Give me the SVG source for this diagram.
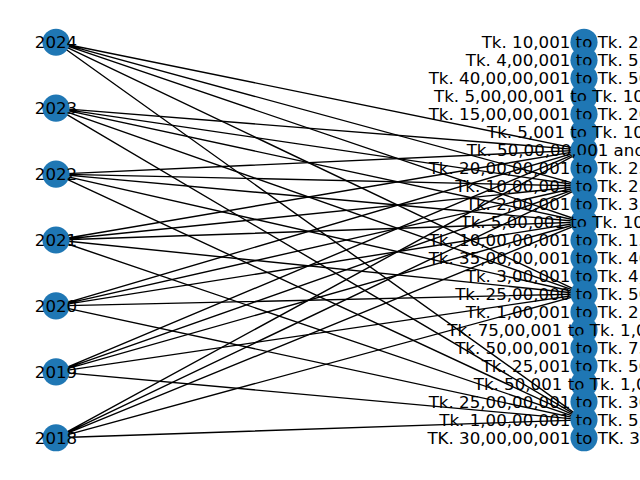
<svg xmlns="http://www.w3.org/2000/svg" width="640" height="480" viewBox="0 0 640 480">
<style>
.e{stroke:#000;stroke-width:1.39;fill:none}
.n{fill:#1f77b4}
.t{font-family:"DejaVu Sans",sans-serif;font-size:16.67px;fill:#000;text-anchor:middle}
</style>
<rect width="640" height="480" fill="#fff"/>
<g id="edges" class="e">
<path d="M56 42.2L584 150.09M56 42.2L584 186.05M56 42.2L584 222.02M56 42.2L584 293.95M56 42.2L584 419.82"/>
<path d="M56 108.13L584 150.09M56 108.13L584 186.05M56 108.13L584 222.02M56 108.13L584 293.95M56 108.13L584 419.82"/>
<path d="M56 174.07L584 150.09M56 174.07L584 186.05M56 174.07L584 222.02M56 174.07L584 293.95M56 174.07L584 419.82"/>
<path d="M56 240L584 150.09M56 240L584 186.05M56 240L584 222.02M56 240L584 293.95M56 240L584 419.82"/>
<path d="M56 305.93L584 150.09M56 305.93L584 186.05M56 305.93L584 222.02M56 305.93L584 293.95M56 305.93L584 419.82"/>
<path d="M56 371.87L584 150.09M56 371.87L584 186.05M56 371.87L584 222.02M56 371.87L584 293.95M56 371.87L584 419.82"/>
<path d="M56 437.8L584 150.09M56 437.8L584 186.05M56 437.8L584 222.02M56 437.8L584 293.95M56 437.8L584 419.82"/>
</g>
<g id="y2024"><circle class="n" cx="56" cy="42.2" r="13.57"/><text class="t" x="56" y="47.9">2024</text></g>
<g id="y2023"><circle class="n" cx="56" cy="108.13" r="13.57"/><text class="t" x="56" y="113.83">2023</text></g>
<g id="y2022"><circle class="n" cx="56" cy="174.07" r="13.57"/><text class="t" x="56" y="179.77">2022</text></g>
<g id="y2021"><circle class="n" cx="56" cy="240" r="13.57"/><text class="t" x="56" y="245.7">2021</text></g>
<g id="y2020"><circle class="n" cx="56" cy="305.93" r="13.57"/><text class="t" x="56" y="311.63">2020</text></g>
<g id="y2019"><circle class="n" cx="56" cy="371.87" r="13.57"/><text class="t" x="56" y="377.57">2019</text></g>
<g id="y2018"><circle class="n" cx="56" cy="437.8" r="13.57"/><text class="t" x="56" y="443.5">2018</text></g>
<g id="r0"><circle class="n" cx="584" cy="42.2" r="13.57"/><text class="t" x="584" y="47.9">Tk. 10,001 to Tk. 25,000</text></g>
<g id="r1"><circle class="n" cx="584" cy="60.18" r="13.57"/><text class="t" x="584" y="65.88">Tk. 4,00,001 to Tk. 5,00,000</text></g>
<g id="r2"><circle class="n" cx="584" cy="78.16" r="13.57"/><text class="t" x="584" y="83.86">Tk. 40,00,00,001 to Tk. 50,00,00,000</text></g>
<g id="r3"><circle class="n" cx="584" cy="96.15" r="13.57"/><text class="t" x="584" y="101.85">Tk. 5,00,00,001 to Tk. 10,00,00,000</text></g>
<g id="r4"><circle class="n" cx="584" cy="114.13" r="13.57"/><text class="t" x="584" y="119.83">Tk. 15,00,00,001 to Tk. 20,00,00,000</text></g>
<g id="r5"><circle class="n" cx="584" cy="132.11" r="13.57"/><text class="t" x="584" y="137.81">Tk. 5,001 to Tk. 10,000</text></g>
<g id="r6"><circle class="n" cx="584" cy="150.09" r="13.57"/><text class="t" x="584" y="155.79">Tk. 50,00,00,001 and above</text></g>
<g id="r7"><circle class="n" cx="584" cy="168.07" r="13.57"/><text class="t" x="584" y="173.77">Tk. 20,00,00,001 to Tk. 25,00,00,000</text></g>
<g id="r8"><circle class="n" cx="584" cy="186.05" r="13.57"/><text class="t" x="584" y="191.75">Tk. 10,00,001 to Tk. 25,00,000</text></g>
<g id="r9"><circle class="n" cx="584" cy="204.04" r="13.57"/><text class="t" x="584" y="209.74">Tk. 2,00,001 to Tk. 3,00,000</text></g>
<g id="r10"><circle class="n" cx="584" cy="222.02" r="13.57"/><text class="t" x="584" y="227.72">Tk. 5,00,001 to Tk. 10,00,000</text></g>
<g id="r11"><circle class="n" cx="584" cy="240" r="13.57"/><text class="t" x="584" y="245.7">Tk. 10,00,00,001 to Tk. 15,00,00,000</text></g>
<g id="r12"><circle class="n" cx="584" cy="257.98" r="13.57"/><text class="t" x="584" y="263.68">Tk. 35,00,00,001 to Tk. 40,00,00,000</text></g>
<g id="r13"><circle class="n" cx="584" cy="275.96" r="13.57"/><text class="t" x="584" y="281.66">Tk. 3,00,001 to Tk. 4,00,000</text></g>
<g id="r14"><circle class="n" cx="584" cy="293.95" r="13.57"/><text class="t" x="584" y="299.65">Tk. 25,00,000 to Tk. 50,00,000</text></g>
<g id="r15"><circle class="n" cx="584" cy="311.93" r="13.57"/><text class="t" x="584" y="317.63">Tk. 1,00,001 to Tk. 2,00,000</text></g>
<g id="r16"><circle class="n" cx="584" cy="329.91" r="13.57"/><text class="t" x="584" y="335.61">Tk. 75,00,001 to Tk. 1,00,00,000</text></g>
<g id="r17"><circle class="n" cx="584" cy="347.89" r="13.57"/><text class="t" x="584" y="353.59">Tk. 50,00,001 to Tk. 75,00,000</text></g>
<g id="r18"><circle class="n" cx="584" cy="365.87" r="13.57"/><text class="t" x="584" y="371.57">Tk. 25,001 to Tk. 50,000</text></g>
<g id="r19"><circle class="n" cx="584" cy="383.85" r="13.57"/><text class="t" x="584" y="389.55">Tk. 50,001 to Tk. 1,00,000</text></g>
<g id="r20"><circle class="n" cx="584" cy="401.84" r="13.57"/><text class="t" x="584" y="407.54">Tk. 25,00,00,001 to Tk. 30,00,00,000</text></g>
<g id="r21"><circle class="n" cx="584" cy="419.82" r="13.57"/><text class="t" x="584" y="425.52">Tk. 1,00,00,001 to Tk. 5,00,00,000</text></g>
<g id="r22"><circle class="n" cx="584" cy="437.8" r="13.57"/><text class="t" x="584" y="443.5">TK. 30,00,00,001 to TK. 35,00,00,000</text></g>
</svg>
